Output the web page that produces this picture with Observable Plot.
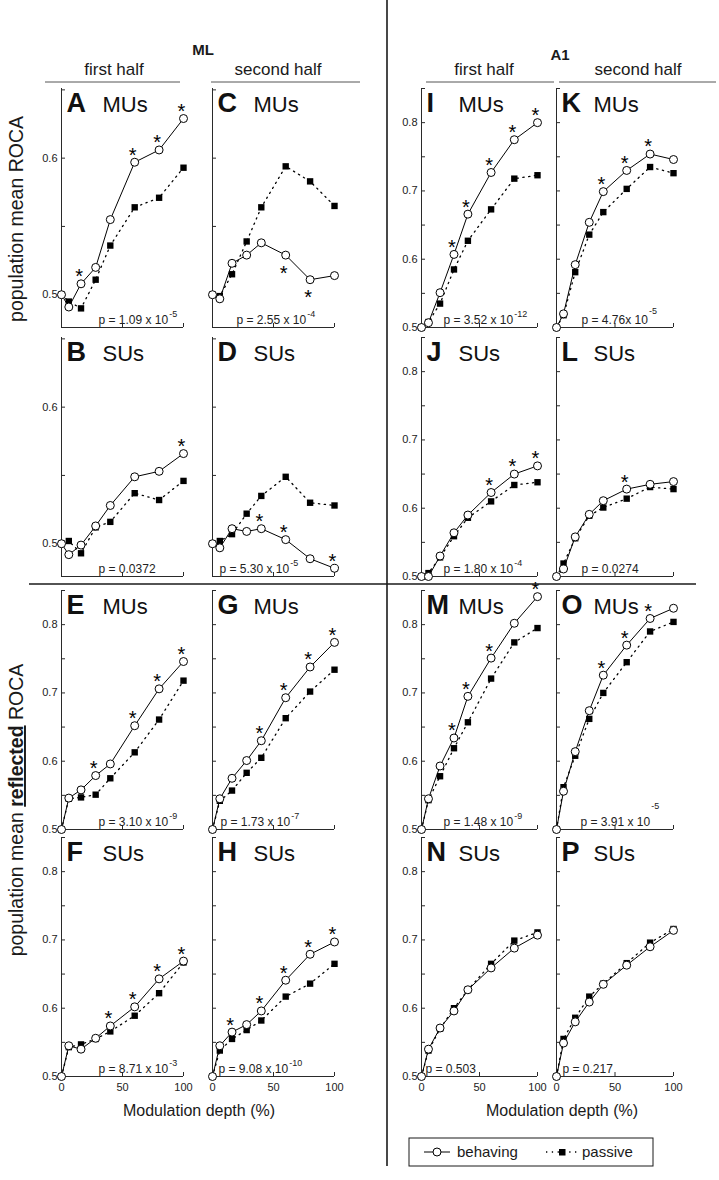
<!DOCTYPE html>
<html><head><meta charset="utf-8">
<script src="https://cdn.jsdelivr.net/npm/d3@7"></script>
<script src="https://cdn.jsdelivr.net/npm/@observablehq/plot@0.6"></script>
<style>
body{margin:0;background:#fff;font-family:"Liberation Sans",Arial,sans-serif;}
#fig{position:relative;width:719px;height:1180px;overflow:hidden;background:#fff;}
#fig svg.panel{position:absolute;overflow:visible;}
#overlay{position:absolute;left:0;top:0;}
</style></head><body><div id="fig"></div>
<script>
// ---------------- data ----------------
const depth = [0, 6, 16, 28, 40, 60, 80, 100];
const xTicks = [0, 50, 100];
const yTicksML = [0.5, 0.55, 0.6, 0.65];
const yLabelsML = [0.5, 0.6];
const yTicksStd = [0.5, 0.55, 0.6, 0.65, 0.7, 0.75, 0.8, 0.85];
const yLabelsStd = [0.5, 0.6, 0.7, 0.8];

// ML, population mean ROCA
const A_beh = [0.500, 0.491, 0.508, 0.520, 0.555, 0.597, 0.606, 0.629];
const A_pas = [0.500, 0.495, 0.490, 0.511, 0.536, 0.564, 0.571, 0.593];
const A_stars = [16, 60, 80, 100];
const A_p = ["p = 1.09 x 10", "-5"];

const C_beh = [0.500, 0.497, 0.523, 0.529, 0.538, 0.529, 0.511, 0.514];
const C_pas = [0.500, 0.499, 0.515, 0.539, 0.564, 0.594, 0.583, 0.565];
const C_stars = [60, 80];
const C_p = ["p = 2.55 x 10", "-4"];

const B_beh = [0.500, 0.492, 0.499, 0.513, 0.528, 0.549, 0.553, 0.566];
const B_pas = [0.500, 0.502, 0.493, 0.512, 0.516, 0.537, 0.532, 0.546];
const B_stars = [100];
const B_p = ["p = 0.0372", ""];

const D_beh = [0.500, 0.497, 0.511, 0.509, 0.511, 0.503, 0.489, 0.482];
const D_pas = [0.500, 0.502, 0.507, 0.522, 0.535, 0.549, 0.530, 0.528];
const D_stars = [40, 60, 100];
const D_p = ["p = 5.30 x 10", "-5"];

// A1, population mean ROCA
const I_beh = [0.500, 0.507, 0.551, 0.607, 0.666, 0.727, 0.775, 0.800];
const I_pas = [0.500, 0.508, 0.535, 0.585, 0.627, 0.673, 0.718, 0.723];
const I_stars = [28, 40, 60, 80, 100];
const I_p = ["p = 3.52 x 10", "-12"];

const K_beh = [0.500, 0.520, 0.592, 0.654, 0.699, 0.730, 0.754, 0.746];
const K_pas = [0.500, 0.518, 0.581, 0.636, 0.669, 0.703, 0.735, 0.726];
const K_stars = [40, 60, 80];
const K_p = ["p = 4.76x 10", "-5"];

const J_beh = [0.500, 0.500, 0.530, 0.564, 0.590, 0.623, 0.650, 0.662];
const J_pas = [0.500, 0.505, 0.528, 0.559, 0.586, 0.610, 0.634, 0.638];
const J_stars = [60, 80, 100];
const J_p = ["p = 1.80 x 10", "-4"];

const L_beh = [0.500, 0.511, 0.558, 0.591, 0.611, 0.628, 0.635, 0.639];
const L_pas = [0.500, 0.519, 0.556, 0.589, 0.601, 0.614, 0.631, 0.628];
const L_stars = [60];
const L_p = ["p = 0.0274", ""];

// ML, population mean reflected ROCA
const E_beh = [0.500, 0.546, 0.558, 0.579, 0.596, 0.652, 0.706, 0.746];
const E_pas = [0.500, 0.545, 0.547, 0.551, 0.575, 0.613, 0.661, 0.718];
const E_stars = [28, 60, 80, 100];
const E_p = ["p = 3.10 x 10", "-9"];

const G_beh = [0.500, 0.545, 0.575, 0.601, 0.630, 0.693, 0.738, 0.774];
const G_pas = [0.500, 0.542, 0.557, 0.583, 0.605, 0.663, 0.702, 0.734];
const G_stars = [40, 60, 80, 100];
const G_p = ["p = 1.73 x 10", "-7"];

const F_beh = [0.500, 0.545, 0.540, 0.556, 0.574, 0.602, 0.643, 0.669];
const F_pas = [0.500, 0.543, 0.547, 0.555, 0.566, 0.589, 0.622, 0.667];
const F_stars = [40, 60, 80, 100];
const F_p = ["p = 8.71 x 10", "-3"];

const H_beh = [0.500, 0.545, 0.565, 0.576, 0.596, 0.641, 0.679, 0.697];
const H_pas = [0.500, 0.538, 0.555, 0.568, 0.582, 0.617, 0.636, 0.665];
const H_stars = [16, 40, 60, 80, 100];
const H_p = ["p = 9.08 x 10", "-10"];

// A1, population mean reflected ROCA
const M_beh = [0.500, 0.545, 0.593, 0.634, 0.695, 0.751, 0.802, 0.841];
const M_pas = [0.500, 0.543, 0.578, 0.619, 0.657, 0.721, 0.774, 0.795];
const M_stars = [28, 40, 60, 100];
const M_p = ["p = 1.48 x 10", "-9"];

const O_beh = [0.500, 0.556, 0.614, 0.674, 0.726, 0.770, 0.809, 0.824];
const O_pas = [0.500, 0.562, 0.608, 0.662, 0.700, 0.745, 0.790, 0.804];
const O_stars = [40, 60, 80];
const O_p = ["p = 3.91 x 10", "-5"];

const N_beh = [0.500, 0.540, 0.571, 0.596, 0.627, 0.659, 0.688, 0.707];
const N_pas = [0.500, 0.538, 0.570, 0.600, 0.627, 0.665, 0.699, 0.711];
const N_stars = [];
const N_p = ["p = 0.503", ""];

const P_beh = [0.500, 0.549, 0.580, 0.609, 0.635, 0.663, 0.690, 0.714];
const P_pas = [0.500, 0.555, 0.586, 0.617, 0.636, 0.666, 0.696, 0.716];
const P_stars = [];
const P_p = ["p = 0.217", ""];

// ---------------- layout ----------------
const cols = [{x0: 61, x1: 183}, {x0: 212, x1: 334}, {x0: 421, x1: 537}, {x0: 556, x1: 673}];
const rows = [{top: 88, bottom: 327}, {top: 337, bottom: 576}, {top: 590, bottom: 829}, {top: 837, bottom: 1076}];
const domML = [0.476, 0.651];
const domStd = [0.5, 0.85];

const panels = [
  {id: "A", unit: "MUs", col: 0, row: 0, beh: A_beh, pas: A_pas, stars: A_stars, p: A_p, pdx: 37, starBelow: false, ex: 7},
  {id: "C", unit: "MUs", col: 1, row: 0, beh: C_beh, pas: C_pas, stars: C_stars, p: C_p, pdx: 24, starBelow: true, ex: 7},
  {id: "I", unit: "MUs", col: 2, row: 0, beh: I_beh, pas: I_pas, stars: I_stars, p: I_p, pdx: 22, starBelow: false, ex: 7},
  {id: "K", unit: "MUs", col: 3, row: 0, beh: K_beh, pas: K_pas, stars: K_stars, p: K_p, pdx: 25, starBelow: false, ex: 10},
  {id: "B", unit: "SUs", col: 0, row: 1, beh: B_beh, pas: B_pas, stars: B_stars, p: B_p, pdx: 37, starBelow: false, ex: 7},
  {id: "D", unit: "SUs", col: 1, row: 1, beh: D_beh, pas: D_pas, stars: D_stars, p: D_p, pdx: 7, starBelow: false, ex: 7},
  {id: "J", unit: "SUs", col: 2, row: 1, beh: J_beh, pas: J_pas, stars: J_stars, p: J_p, pdx: 22, starBelow: false, ex: 7},
  {id: "L", unit: "SUs", col: 3, row: 1, beh: L_beh, pas: L_pas, stars: L_stars, p: L_p, pdx: 25, starBelow: false, ex: 7},
  {id: "E", unit: "MUs", col: 0, row: 2, beh: E_beh, pas: E_pas, stars: E_stars, p: E_p, pdx: 37, starBelow: false, ex: 7},
  {id: "G", unit: "MUs", col: 1, row: 2, beh: G_beh, pas: G_pas, stars: G_stars, p: G_p, pdx: 8, starBelow: false, ex: 7},
  {id: "M", unit: "MUs", col: 2, row: 2, beh: M_beh, pas: M_pas, stars: M_stars, p: M_p, pdx: 22, starBelow: false, ex: 7},
  {id: "O", unit: "MUs", col: 3, row: 2, beh: O_beh, pas: O_pas, stars: O_stars, p: O_p, pdx: 24, starBelow: false, ex: 17},
  {id: "F", unit: "SUs", col: 0, row: 3, beh: F_beh, pas: F_pas, stars: F_stars, p: F_p, pdx: 37, starBelow: false, ex: 7},
  {id: "H", unit: "SUs", col: 1, row: 3, beh: H_beh, pas: H_pas, stars: H_stars, p: H_p, pdx: 6, starBelow: false, ex: 7},
  {id: "N", unit: "SUs", col: 2, row: 3, beh: N_beh, pas: N_pas, stars: N_stars, p: N_p, pdx: 4, starBelow: false, ex: 7},
  {id: "P", unit: "SUs", col: 3, row: 3, beh: P_beh, pas: P_pas, stars: P_stars, p: P_p, pdx: 6, starBelow: false, ex: 7}
];

const FONT = '"Liberation Sans", Arial, sans-serif';
const axisColor = "#2a2a2a";
const ctx = document.createElement("canvas").getContext("2d");
function textWidth(s, size) { ctx.font = `${size}px "Liberation Sans"`; return ctx.measureText(s).width; }

const fig = document.getElementById("fig");
const ML = 40, MR = 14, MT = 24, MB = 30;

for (const pn of panels) {
  const c = cols[pn.col], r = rows[pn.row];
  const iw = c.x1 - c.x0, ih = r.bottom - r.top;
  const isML = pn.row < 2 && pn.col < 2;
  const domain = isML ? domML : domStd;
  const yTicks = isML ? yTicksML : yTicksStd;
  const yLabels = isML ? yLabelsML : yLabelsStd;
  const beh = depth.map((d, i) => ({depth: d, roca: pn.beh[i]}));
  const pas = depth.map((d, i) => ({depth: d, roca: pn.pas[i]}));
  const stars = pn.stars.map(x => ({depth: x, roca: pn.beh[depth.indexOf(x)]}));
  const pw = textWidth(pn.p[0], 12);
  const marks = [
    Plot.ruleX([0], {stroke: axisColor, strokeWidth: 1}),
    Plot.ruleY([domain[0]], {stroke: axisColor, strokeWidth: 1}),
    Plot.tickY(yTicks, {y: d => d, stroke: axisColor, insetRight: iw - 4}),
    Plot.tickX(xTicks, {x: d => d, stroke: axisColor, insetTop: ih - 4}),
    Plot.line(pas, {x: "depth", y: "roca", stroke: "#000", strokeWidth: 1.3, strokeDasharray: "1.3,4.5"}),
    Plot.dot(pas, {x: "depth", y: "roca", symbol: "square", r: 3.6, fill: "#000", stroke: null}),
    Plot.line(beh, {x: "depth", y: "roca", stroke: "#000", strokeWidth: 1}),
    Plot.dot(beh, {x: "depth", y: "roca", r: 4, fill: "#fff", stroke: "#000", strokeWidth: 1}),
    Plot.text(stars, {x: "depth", y: "roca", text: () => "*", fontSize: 20, dx: -2, dy: pn.starBelow ? 18 : -7, fill: "#000"}),
    Plot.text([pn.id], {frameAnchor: "top-left", text: d => d, dx: 5, dy: 23, lineAnchor: "bottom", textAnchor: "start", fontSize: 27, fontWeight: "bold", fill: "#111"}),
    Plot.text([pn.unit], {frameAnchor: "top-left", text: d => d, dx: pn.col < 2 ? 41 : 37, dy: 23, lineAnchor: "bottom", textAnchor: "start", fontSize: 22, fill: "#111"}),
    Plot.text([pn.p[0]], {frameAnchor: "bottom-left", text: d => d, dx: pn.pdx, dy: -4, lineAnchor: "bottom", textAnchor: "start", fontSize: 12, fill: "#222"}),
    Plot.text([pn.p[1]], {frameAnchor: "bottom-left", text: d => d, dx: pn.pdx + pw + 1, dy: -4 - pn.ex, lineAnchor: "bottom", textAnchor: "start", fontSize: 9, fill: "#222"})
  ];
  if (pn.col === 0 || pn.col === 2) {
    marks.push(Plot.text(yLabels, {y: d => d, frameAnchor: "left", text: d => d.toFixed(1), textAnchor: "end", dx: -4, fontSize: 11, fill: "#222"}));
  }
  if (pn.row === 3) {
    marks.push(Plot.text(xTicks, {x: d => d, frameAnchor: "bottom", text: d => String(d), textAnchor: "middle", lineAnchor: "top", dy: 7, fontSize: 11, fill: "#222"}));
  }
  const svg = Plot.plot({
    width: iw + ML + MR, height: ih + MT + MB,
    marginLeft: ML, marginRight: MR, marginTop: MT, marginBottom: MB,
    style: {fontFamily: FONT, overflow: "visible", background: "transparent"},
    x: {domain: [0, 100], axis: null},
    y: {domain, axis: null},
    marks
  });
  svg.classList.add("panel");
  svg.style.left = (c.x0 - ML) + "px";
  svg.style.top = (r.top - MT) + "px";
  fig.appendChild(svg);
}

// ---------------- overlay: headers, dividers, labels, legend ----------------
const ov = d3.select(fig).append("svg").attr("id", "overlay").attr("width", 719).attr("height", 1180)
  .style("font-family", FONT).style("pointer-events", "none");
const ink = "#1a1a1a";
ov.append("line").attr("x1", 387).attr("x2", 387).attr("y1", 0).attr("y2", 1166).attr("stroke", ink).attr("stroke-width", 1.6);
ov.append("line").attr("x1", 29).attr("x2", 696).attr("y1", 584).attr("y2", 584).attr("stroke", ink).attr("stroke-width", 1.6);

const headers = [
  {t: "ML", x: 203, y: 55}, {t: "A1", x: 560, y: 60}
];
for (const h of headers) ov.append("text").attr("x", h.x).attr("y", h.y).attr("text-anchor", "middle")
  .attr("font-size", 15).attr("font-weight", "bold").attr("fill", ink).text(h.t);
const halves = [
  {t: "first half", x: 114, x1: 45, x2: 180},
  {t: "second half", x: 278, x1: 211, x2: 360},
  {t: "first half", x: 484, x1: 426, x2: 554},
  {t: "second half", x: 638, x1: 559, x2: 716}
];
for (const h of halves) {
  ov.append("text").attr("x", h.x).attr("y", 75).attr("text-anchor", "middle").attr("font-size", 17).attr("fill", ink).text(h.t);
  ov.append("line").attr("x1", h.x1).attr("x2", h.x2).attr("y1", 82).attr("y2", 82).attr("stroke", "#555").attr("stroke-width", 1);
}
// y labels
ov.append("text").attr("transform", "translate(23,219) rotate(-90)").attr("text-anchor", "middle")
  .attr("font-size", 19.5).attr("fill", ink).text("population mean ROCA");
const yl2 = ov.append("text").attr("transform", "translate(23,810) rotate(-90)").attr("text-anchor", "middle")
  .attr("font-size", 19.5).attr("fill", ink);
yl2.append("tspan").text("population mean ");
yl2.append("tspan").attr("font-weight", "bold").attr("text-decoration", "underline").text("reflected");
yl2.append("tspan").text(" ROCA");
// x labels
for (const x of [199, 562]) ov.append("text").attr("x", x).attr("y", 1116).attr("text-anchor", "middle")
  .attr("font-size", 16).attr("fill", ink).text("Modulation depth (%)");
// legend
ov.append("rect").attr("x", 409).attr("y", 1138).attr("width", 244).attr("height", 28).attr("fill", "none").attr("stroke", ink).attr("stroke-width", 1);
ov.append("line").attr("x1", 424).attr("x2", 450).attr("y1", 1152).attr("y2", 1152).attr("stroke", "#000");
ov.append("circle").attr("cx", 437).attr("cy", 1152).attr("r", 4).attr("fill", "#fff").attr("stroke", "#000");
ov.append("text").attr("x", 457).attr("y", 1157).attr("font-size", 15).attr("fill", ink).text("behaving");
ov.append("line").attr("x1", 546).attr("x2", 578).attr("y1", 1152).attr("y2", 1152).attr("stroke", "#000").attr("stroke-dasharray", "1.3,4.5").attr("stroke-width", 1.3);
ov.append("rect").attr("x", 559).attr("y", 1149).attr("width", 6.5).attr("height", 6.5).attr("fill", "#000");
ov.append("text").attr("x", 582).attr("y", 1157).attr("font-size", 15).attr("fill", ink).text("passive");
</script>
</body></html>
